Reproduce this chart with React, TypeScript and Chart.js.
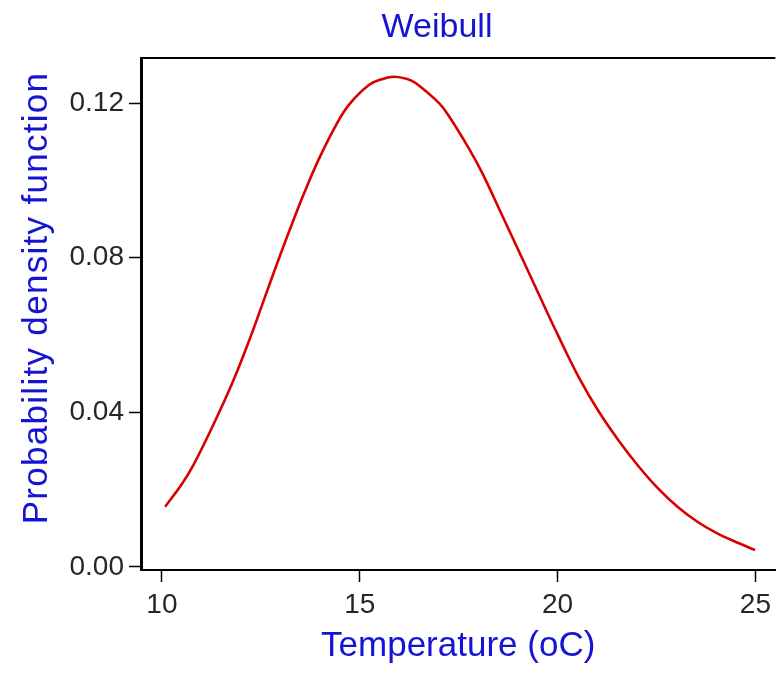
import React, { useEffect, useRef } from 'react';
import { Chart, registerables } from 'chart.js';

Chart.register(...registerables);

// ---- data ----
const temperature = [
  10.08, 10.5, 10.79, 11.29, 11.8, 12.22, 12.55, 12.85, 13.23, 13.61, 13.98, 14.4, 14.74,
  15.24, 15.6, 15.87, 16.2, 16.42, 17.01, 17.26, 17.76, 18.1, 18.6, 19.07, 19.53, 20.03,
  20.54, 21.04, 21.55, 22.05, 22.55, 23.06, 23.56, 24.07, 24.57, 24.99,
];
const density = [
  0.0156, 0.0214, 0.0263, 0.0366, 0.0481, 0.059, 0.0683, 0.0768, 0.0872, 0.0971, 0.1058, 0.1143, 0.1197,
  0.1247, 0.1263, 0.1268, 0.1262, 0.1251, 0.1199, 0.1165, 0.1082, 0.1018, 0.0909, 0.0806, 0.0704, 0.0595,
  0.049, 0.0402, 0.0326, 0.026, 0.0202, 0.0153, 0.0115, 0.0085, 0.0062, 0.0044,
];
const xTicks = [10, 15, 20, 25];
const xTickLabels = ['10', '15', '20', '25'];
const yTicks = [0, 0.04, 0.08, 0.12];
const yTickLabels = ['0.00', '0.04', '0.08', '0.12'];
const chartTitle = 'Weibull';
const xTitle = 'Temperature (oC)';
const yTitle = 'Probability density function';

const FONT = '"Liberation Sans", Arial, sans-serif';
const BLUE = '#1414d2';
const TICK_COLOR = '#262626';

const framePlugin = {
  id: 'frameAndTitles',
  afterDraw(chart: any) {
    const { ctx, chartArea } = chart;
    ctx.save();
    // top frame line
    ctx.strokeStyle = '#000';
    ctx.lineWidth = 2;
    ctx.beginPath();
    ctx.moveTo(chartArea.left, chartArea.top);
    ctx.lineTo(chartArea.right, chartArea.top);
    ctx.stroke();
    // main title
    ctx.fillStyle = BLUE;
    ctx.font = `34px ${FONT}`;
    ctx.textAlign = 'center';
    ctx.textBaseline = 'alphabetic';
    ctx.fillText(chartTitle, chartArea.left + 296, 37);
    // y axis title
    ctx.translate(37, (chartArea.top + chartArea.bottom) / 2 - 16);
    ctx.rotate(-Math.PI / 2);
    ctx.font = `35px ${FONT}`;
    try {
      (ctx as any).letterSpacing = '1.3px';
    } catch (e) {}
    ctx.textAlign = 'center';
    ctx.textBaseline = 'middle';
    ctx.fillText(yTitle, 0, 0);
    ctx.restore();
  },
};

export default function App() {
  const ref = useRef<HTMLCanvasElement | null>(null);

  useEffect(() => {
    if (!ref.current) return;
    const chart = new Chart(ref.current, {
      type: 'line',
      data: {
        datasets: [
          {
            data: temperature.map((t, i) => ({ x: t, y: density[i] })),
            borderColor: '#d90000',
            borderWidth: 2.6,
            pointRadius: 0,
            fill: false,
            tension: 0.4,
          },
        ],
      },
      options: {
        animation: false,
        responsive: false,
        maintainAspectRatio: false,
        layout: { padding: { top: 58, left: 0, right: 0, bottom: 0 } },
        plugins: { legend: { display: false }, tooltip: { enabled: false }, title: { display: false } },
        scales: {
          x: {
            type: 'linear',
            min: 9.4706,
            max: 25.504,
            afterFit: (s: any) => {
              s.height = 108;
            },
            afterBuildTicks: (s: any) => {
              s.ticks = xTicks.map((v) => ({ value: v }));
            },
            ticks: {
              autoSkip: false,
              maxRotation: 0,
              padding: 6,
              color: TICK_COLOR,
              font: { family: FONT, size: 28 },
              callback: (_v: any, i: number) => xTickLabels[i],
            },
            grid: {
              display: true,
              drawOnChartArea: false,
              drawTicks: true,
              tickLength: 12,
              tickWidth: 1.5,
              tickColor: '#000',
              color: '#000',
            },
            border: { display: true, color: '#000', width: 2 },
            title: {
              display: true,
              text: xTitle,
              color: BLUE,
              font: { family: FONT, size: 35 },
              padding: { top: 0, bottom: 11 },
            },
          },
          y: {
            type: 'linear',
            min: -0.000776,
            max: 0.13164,
            afterFit: (s: any) => {
              s.width = 141;
            },
            afterBuildTicks: (s: any) => {
              s.ticks = yTicks.map((v) => ({ value: v }));
            },
            ticks: {
              autoSkip: false,
              padding: 5,
              color: TICK_COLOR,
              font: { family: FONT, size: 28 },
              callback: (_v: any, i: number) => yTickLabels[i],
            },
            grid: {
              display: true,
              drawOnChartArea: false,
              drawTicks: true,
              tickLength: 12,
              tickWidth: 1.5,
              tickColor: '#000',
              color: '#000',
            },
            border: { display: true, color: '#000', width: 3 },
            title: { display: false, text: yTitle },
          },
        },
      },
      plugins: [framePlugin],
    } as any);
    return () => chart.destroy();
  }, []);

  return (
    <div style={{ position: 'absolute', left: 0, top: 0, width: 777, height: 678, background: '#fff' }}>
      <canvas ref={ref} width={777} height={678} style={{ display: 'block' }} />
    </div>
  );
}
